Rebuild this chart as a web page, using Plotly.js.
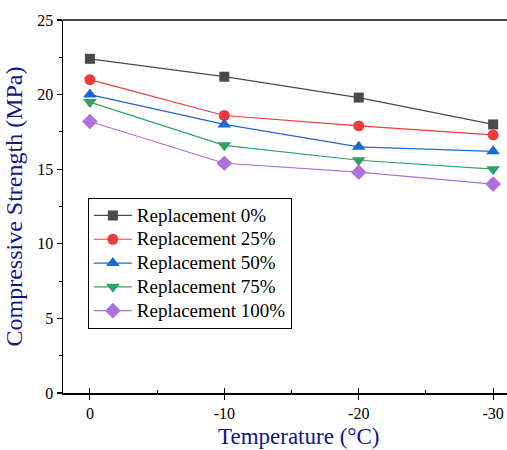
<!DOCTYPE html>
<html>
<head>
<meta charset="utf-8">
<script src="https://cdn.plot.ly/plotly-3.0.1.min.js"></script>
<style>html,body{margin:0;padding:0;background:#fff;overflow:hidden;}#chart{width:507px;height:450px;}</style>
</head>
<body>
<div id="chart"></div>
<script>
const temperatures = [0, -10, -20, -30];
const tickLabels = ["0", "-10", "-20", "-30"];
const seriesNames = ["Replacement 0%", "Replacement 25%", "Replacement 50%", "Replacement 75%", "Replacement 100%"];
const rep0 = [22.4, 21.2, 19.8, 18.0];
const rep25 = [21.0, 18.6, 17.9, 17.3];
const rep50 = [20.0, 18.0, 16.5, 16.2];
const rep75 = [19.5, 16.6, 15.6, 15.0];
const rep100 = [18.2, 15.4, 14.8, 14.0];

const values = [rep0, rep25, rep50, rep75, rep100];
const colors = ["#4a4a4a", "#ef3b3b", "#1f66d6", "#2fa266", "#b06fdc"];
const symbols = ["square", "circle", "triangle-up", "triangle-down", "diamond"];
const sizes = [10, 11, 12, 12, 12];

const traces = values.map((v, i) => ({
  x: temperatures, y: v,
  name: '<span style="font-size:19px">' + seriesNames[i] + '</span>',
  type: 'scatter', mode: 'lines+markers',
  line: {color: colors[i], width: 1.2},
  marker: {color: colors[i], symbol: symbols[i], size: sizes[i]}
}));
traces.push({x: [0], y: [0], xaxis: 'x2', yaxis: 'y', showlegend: false, mode: 'markers',
  marker: {opacity: 0}, hoverinfo: 'skip'});

const font = "Liberation Serif";
const xr = [2, -31.03];
const layout = {
  width: 507, height: 450,
  margin: {l: 63, r: 0, t: 20, b: 57},
  paper_bgcolor: '#fff', plot_bgcolor: '#fff',
  font: {family: font, size: 14, color: '#000'},
  showlegend: true,
  legend: {x: 0.056, y: 0.524, xanchor: 'left', yanchor: 'top',
    bgcolor: '#fff', bordercolor: '#000', borderwidth: 1, itemwidth: 38,
    font: {family: font, size: 16, color: '#000'}, tracegroupgap: 0},
  xaxis: {range: xr, tickvals: temperatures, ticktext: tickLabels,
    ticks: 'outside', ticklen: 5, tickwidth: 1.2, tickcolor: '#000',
    showline: true, linecolor: '#000', linewidth: 1.5, showgrid: false, zeroline: false,
    minor: {tickvals: [-5, -15, -25], ticks: 'inside', ticklen: 3, tickwidth: 1, tickcolor: '#000', showgrid: false},
    tickfont: {family: font, size: 16, color: '#000'}},
  xaxis2: {range: xr, overlaying: 'x', anchor: 'y', side: 'bottom', tickvals: temperatures,
    ticks: 'inside', ticklen: 5, tickwidth: 1.2, tickcolor: '#000',
    showticklabels: false, showline: false, showgrid: false, zeroline: false},
  yaxis: {range: [0, 25], tickvals: [0, 5, 10, 15, 20, 25],
    ticks: 'outside', ticklen: 5, tickwidth: 1.2, tickcolor: '#000',
    showline: true, linecolor: '#000', linewidth: 1.5, showgrid: false, zeroline: false,
    minor: {dtick: 2.5, ticks: 'outside', ticklen: 3, tickwidth: 1, tickcolor: '#000', showgrid: false},
    tickfont: {family: font, size: 16, color: '#000'},
    title: {text: 'Compressive Strength (MPa)', font: {family: font, size: 24, color: '#14148c'}, standoff: 8}},
  annotations: [{text: 'Temperature (°C)', xref: 'paper', yref: 'paper', x: (298 - 63) / 444, y: -0.117,
    xanchor: 'center', yanchor: 'middle', showarrow: false,
    font: {family: font, size: 23, color: '#14148c'}}],
  shapes: [{type: 'line', xref: 'paper', yref: 'paper', x0: 0, x1: 1, y0: 1, y1: 1,
    line: {color: '#000', width: 1.5}}]
};
Plotly.newPlot('chart', traces, layout, {displayModeBar: false, staticPlot: true});
</script>
</body>
</html>
